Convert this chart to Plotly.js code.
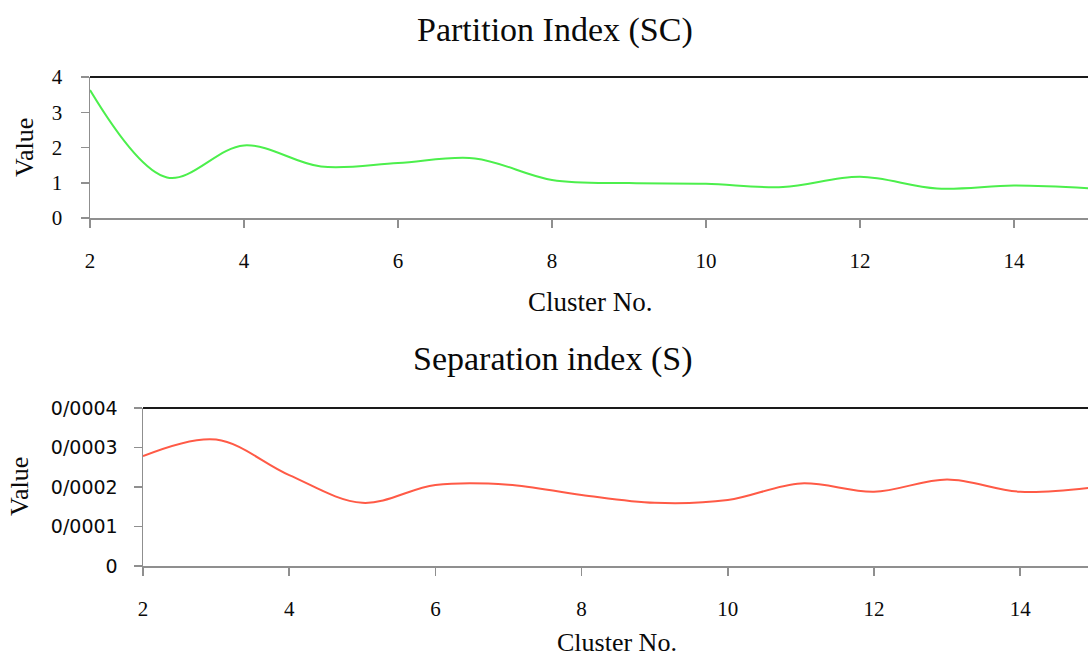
<!DOCTYPE html>
<html>
<head>
<meta charset="utf-8">
<script src="https://cdn.plot.ly/plotly-3.0.1.min.js"></script>
<style>
  html, body { margin: 0; padding: 0; background: #fff; }
  #chart { width: 1088px; height: 659px; }
</style>
</head>
<body>
<div id="chart"></div>
<script>
// Cluster counts evaluated
const clusters = [2, 3, 4, 5, 6, 7, 8, 9, 10, 11, 12, 13, 14, 15];

// Partition index (SC) per cluster count
const partitionSC = [3.63, 1.15, 2.06, 1.46, 1.56, 1.69, 1.08, 0.99, 0.97, 0.88, 1.17, 0.84, 0.92, 0.84];

// Separation index (S) per cluster count
const separationS = [0.000278, 0.000320, 0.000230, 0.000160, 0.000205, 0.000206, 0.000180, 0.000160,
                     0.000167, 0.000209, 0.000188, 0.000219, 0.000188, 0.000199];

// Tick labels
const xTicks = [2, 4, 6, 8, 10, 12, 14];
const scTicks = [0, 1, 2, 3, 4];
const sTickVals = [0, 0.0001, 0.0002, 0.0003, 0.0004];
const sTickText = ['0', '0/0001', '0/0002', '0/0003', '0/0004'];

const W = 1088, H = 659;
const px = v => v / W;
const py = v => 1 - v / H;

const serif = 'Liberation Serif, Times New Roman, serif';
const sans = 'DejaVu Sans, Verdana, sans-serif';
const axisGrey = '#8f8f8f';
const ink = '#0a0a0a';

const traces = [
  {
    x: clusters, y: partitionSC, xaxis: 'x', yaxis: 'y',
    type: 'scatter', mode: 'lines',
    line: { color: '#4cef4c', width: 2, shape: 'spline', smoothing: 1 },
    hoverinfo: 'x+y'
  },
  {
    x: clusters, y: separationS, xaxis: 'x2', yaxis: 'y2',
    type: 'scatter', mode: 'lines',
    line: { color: '#ff5a46', width: 2, shape: 'spline', smoothing: 1 },
    hoverinfo: 'x+y'
  }
];

const baseX = {
  showgrid: false, zeroline: false,
  showline: true, linecolor: axisGrey, linewidth: 1.5,
  ticks: 'outside', ticklen: 8, tickcolor: axisGrey, tickwidth: 1.5,
  tickvals: xTicks,
  tickfont: { family: serif, size: 21, color: ink },
  ticklabelstandoff: 15,
  fixedrange: true
};
const baseY = {
  showgrid: false, zeroline: false,
  showline: true, linecolor: axisGrey, linewidth: 1.5,
  ticks: 'outside', ticklen: 8, tickcolor: axisGrey, tickwidth: 1.5,
  fixedrange: true
};

const layout = {
  width: W, height: H,
  margin: { l: 0, r: 0, t: 0, b: 0 },
  paper_bgcolor: '#ffffff', plot_bgcolor: '#ffffff',
  showlegend: false,
  xaxis: Object.assign({}, baseX, {
    domain: [px(90), 1], range: [2, 2 + (W - 90) / 77], anchor: 'y'
  }),
  yaxis: Object.assign({}, baseY, {
    domain: [py(218), py(77)], range: [0, 4], anchor: 'x',
    tickvals: scTicks,
    tickfont: { family: serif, size: 21, color: ink },
    ticklabelstandoff: 14
  }),
  xaxis2: Object.assign({}, baseX, {
    domain: [px(143), 1], range: [2, 2 + (W - 143) / 73.1], anchor: 'y2'
  }),
  yaxis2: Object.assign({}, baseY, {
    domain: [py(566), py(408)], range: [0, 0.0004], anchor: 'x2',
    tickvals: sTickVals, ticktext: sTickText,
    tickfont: { family: sans, size: 19, color: ink },
    ticklabelstandoff: 12
  }),
  shapes: [
    { type: 'line', xref: 'x domain', yref: 'y domain', x0: 0, x1: 1, y0: 1, y1: 1,
      line: { color: '#1a1a1a', width: 2 } },
    { type: 'line', xref: 'x2 domain', yref: 'y2 domain', x0: 0, x1: 1, y0: 1, y1: 1,
      line: { color: '#1a1a1a', width: 2 } }
  ],
  annotations: [
    { text: 'Partition Index (SC)', xref: 'paper', yref: 'paper', x: px(555), y: py(30),
      xanchor: 'center', yanchor: 'middle', showarrow: false,
      font: { family: serif, size: 34, color: ink } },
    { text: 'Cluster No.', xref: 'paper', yref: 'paper', x: px(590), y: py(302),
      xanchor: 'center', yanchor: 'middle', showarrow: false,
      font: { family: serif, size: 27, color: ink } },
    { text: 'Value', xref: 'paper', yref: 'paper', x: px(25), y: py(148),
      xanchor: 'center', yanchor: 'middle', showarrow: false, textangle: -90,
      font: { family: serif, size: 26, color: ink } },
    { text: 'Separation index (S)', xref: 'paper', yref: 'paper', x: px(553), y: py(359),
      xanchor: 'center', yanchor: 'middle', showarrow: false,
      font: { family: serif, size: 34, color: ink } },
    { text: 'Cluster No.', xref: 'paper', yref: 'paper', x: px(617), y: py(642),
      xanchor: 'center', yanchor: 'middle', showarrow: false,
      font: { family: serif, size: 26, color: ink } },
    { text: 'Value', xref: 'paper', yref: 'paper', x: px(20), y: py(487),
      xanchor: 'center', yanchor: 'middle', showarrow: false, textangle: -90,
      font: { family: serif, size: 26, color: ink } }
  ]
};

Plotly.newPlot('chart', traces, layout, { displayModeBar: false, staticPlot: true });
</script>
</body>
</html>
